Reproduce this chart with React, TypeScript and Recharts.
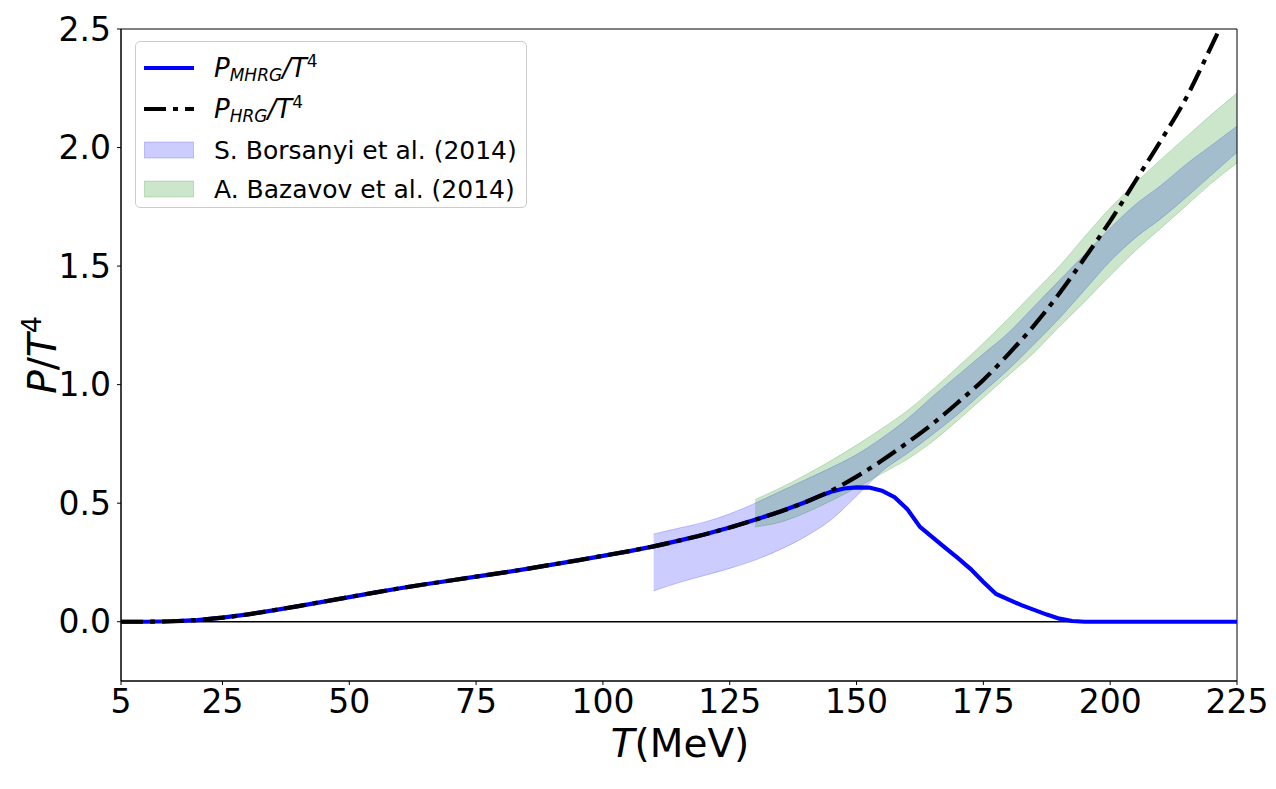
import React from 'react';
import {
  ComposedChart,
  Line,
  Area,
  XAxis,
  YAxis,
  Legend,
  ReferenceLine,
  ReferenceArea,
  Label,
} from 'recharts';

const FONT = '"DejaVu Sans", sans-serif';

// temperature grid (MeV) for the ideal HRG curve
const hrgT = [
  5, 10, 15, 20, 25, 30, 35, 40, 45, 50, 55, 60, 65, 70, 75, 80, 85, 90, 95, 100,
  105, 110, 115, 120, 125, 130, 135, 140, 145, 150, 155, 160, 165, 170, 175, 180,
  185, 190, 195, 200, 205, 210, 215, 220, 225,
];
const hrgP = [
  0, 0, 0.002, 0.007, 0.017, 0.031, 0.048, 0.066, 0.085, 0.104, 0.123, 0.141, 0.158,
  0.174, 0.19, 0.206, 0.223, 0.241, 0.259, 0.278, 0.297, 0.318, 0.342, 0.368, 0.397,
  0.43, 0.465, 0.505, 0.553, 0.612, 0.68, 0.755, 0.835, 0.925, 1.02, 1.13, 1.25,
  1.385, 1.535, 1.69, 1.86, 2.03, 2.21, 2.43, 2.66,
];

// modified HRG
const mhrgT = [
  5, 10, 15, 20, 25, 30, 35, 40, 45, 50, 55, 60, 65, 70, 75, 80, 85, 90, 95, 100,
  105, 110, 115, 120, 125, 130, 135, 140, 142.5, 145, 147.5, 150, 152.5, 155, 157.5,
  160, 162.5, 165, 167.5, 170, 172.5, 175, 177.5, 180, 182.5, 185, 187.5, 190, 192.5,
  195, 200, 210, 225,
];
const mhrgP = [
  0, 0, 0.002, 0.007, 0.017, 0.031, 0.048, 0.066, 0.085, 0.104, 0.123, 0.141, 0.158,
  0.174, 0.19, 0.206, 0.223, 0.241, 0.259, 0.278, 0.297, 0.318, 0.342, 0.368, 0.397,
  0.43, 0.465, 0.505, 0.528, 0.548, 0.562, 0.567, 0.566, 0.553, 0.525, 0.475, 0.4,
  0.356, 0.312, 0.268, 0.222, 0.168, 0.117, 0.093, 0.07, 0.05, 0.03, 0.013, 0.003,
  0, 0, 0, 0,
];

// lattice bands
const borsT = [110, 115, 120, 125, 130, 135, 140, 145, 150, 155, 160, 165, 170, 175, 180, 185, 190, 195, 200, 205, 210, 215, 220, 225];
const borsLow = [0.13, 0.165, 0.195, 0.225, 0.26, 0.305, 0.36, 0.43, 0.53, 0.635, 0.71, 0.79, 0.875, 0.97, 1.065, 1.17, 1.28, 1.4, 1.52, 1.62, 1.7, 1.79, 1.885, 1.98];
const borsHigh = [0.37, 0.395, 0.42, 0.455, 0.5, 0.55, 0.6, 0.65, 0.705, 0.775, 0.855, 0.95, 1.04, 1.13, 1.22, 1.33, 1.44, 1.55, 1.66, 1.76, 1.84, 1.93, 2.01, 2.09];

const bazT = [130, 135, 140, 145, 150, 155, 160, 165, 170, 175, 180, 185, 190, 195, 200, 205, 210, 215, 220, 225];
const bazLow = [0.4, 0.42, 0.46, 0.51, 0.565, 0.625, 0.685, 0.76, 0.85, 0.945, 1.04, 1.135, 1.245, 1.35, 1.46, 1.565, 1.66, 1.755, 1.85, 1.935];
const bazHigh = [0.515, 0.565, 0.62, 0.68, 0.745, 0.815, 0.89, 0.98, 1.075, 1.175, 1.28, 1.39, 1.5, 1.625, 1.745, 1.85, 1.95, 2.045, 2.14, 2.23];

const xTicks = [5, 25, 50, 75, 100, 125, 150, 175, 200, 225];
const yTicks = [0, 0.5, 1, 1.5, 2, 2.5];

const hrgData = hrgT.map((t, i) => ({ T: t, p: hrgP[i] }));
const mhrgData = mhrgT.map((t, i) => ({ T: t, p: mhrgP[i] }));
const borsData = borsT.map((t, i) => ({ T: t, band: [borsLow[i], borsHigh[i]] }));
const bazData = bazT.map((t, i) => ({ T: t, band: [bazLow[i], bazHigh[i]] }));

const tickStyle = { fill: '#000', fontSize: 33, fontFamily: FONT };

function LegendRow({ top, swatch, children }: { top: number; swatch: React.ReactNode; children: React.ReactNode }) {
  return (
    <div style={{ position: 'absolute', left: 8, top, height: 40, display: 'flex', alignItems: 'center' }}>
      <div style={{ width: 50, height: 40, display: 'flex', alignItems: 'center' }}>{swatch}</div>
      <div style={{ marginLeft: 20, whiteSpace: 'nowrap' }}>{children}</div>
    </div>
  );
}

function LegendBox() {
  const main = { fontSize: 26, fontStyle: 'italic' as const };
  const sub = { fontSize: 17, fontStyle: 'italic' as const, verticalAlign: -4 };
  const sup = { fontSize: 17, verticalAlign: 10 };
  return (
    <div
      style={{
        width: 392,
        height: 167,
        boxSizing: 'border-box',
        border: '1px solid #cccccc',
        borderRadius: 5,
        background: 'rgba(255,255,255,0.8)',
        fontFamily: FONT,
        fontSize: 25,
        color: '#000',
        position: 'relative',
        lineHeight: 1,
      }}
    >
      <LegendRow
        top={6}
        swatch={
          <svg width={50} height={10}>
            <line x1={0} y1={5} x2={50} y2={5} stroke="#0000ff" strokeWidth={4.2} />
          </svg>
        }
      >
        <span style={main}>P</span>
        <span style={sub}>MHRG</span>
        <span style={main}>/T</span>
        <span style={sup}>4</span>
      </LegendRow>
      <LegendRow
        top={47}
        swatch={
          <svg width={50} height={10}>
            <line x1={0} y1={5} x2={50} y2={5} stroke="#000" strokeWidth={4.2} strokeDasharray="22 7 5 7" />
          </svg>
        }
      >
        <span style={main}>P</span>
        <span style={sub}>HRG</span>
        <span style={main}>/T</span>
        <span style={sup}>4</span>
      </LegendRow>
      <LegendRow
        top={88}
        swatch={
          <svg width={50} height={18}>
            <rect x={0.5} y={1} width={49} height={16} fill="#0000ff" fillOpacity={0.2} stroke="#0000ff" strokeOpacity={0.2} />
          </svg>
        }
      >
        S. Borsanyi et al. (2014)
      </LegendRow>
      <LegendRow
        top={127}
        swatch={
          <svg width={50} height={18}>
            <rect x={0.5} y={1} width={49} height={16} fill="#008000" fillOpacity={0.2} stroke="#008000" strokeOpacity={0.2} />
          </svg>
        }
      >
        A. Bazavov et al. (2014)
      </LegendRow>
    </div>
  );
}

function YTitle() {
  return (
    <text x={56} y={355} transform="rotate(-90, 56, 355)" textAnchor="middle" fontFamily={FONT} fontSize={39} fill="#000">
      <tspan fontStyle="italic">P</tspan>
      <tspan>/</tspan>
      <tspan fontStyle="italic">T</tspan>
      <tspan dy={-15} fontSize={27}>4</tspan>
    </text>
  );
}

function XTitle() {
  return (
    <text x={680} y={757} textAnchor="middle" fontFamily={FONT} fontSize={39} fill="#000">
      <tspan fontStyle="italic">T</tspan>
      <tspan>(MeV)</tspan>
    </text>
  );
}

export default function App() {
  return (
    <div style={{ position: 'absolute', left: 0, top: 0, width: 1276, height: 789, background: '#fff' }}>
      <ComposedChart width={1276} height={789} margin={{ top: 29, right: 39, bottom: 0, left: 0 }}>
        <XAxis
          dataKey="T"
          type="number"
          domain={[5, 225]}
          ticks={xTicks}
          allowDataOverflow
          height={108}
          tickSize={4}
          tickMargin={5}
          tick={tickStyle}
          axisLine={{ stroke: '#000', strokeWidth: 1 }}
          tickLine={{ stroke: '#000', strokeWidth: 1 }}
        >
          <Label content={() => <XTitle />} />
        </XAxis>
        <YAxis
          type="number"
          domain={[-0.25, 2.5]}
          ticks={yTicks}
          allowDataOverflow
          width={121}
          tickSize={4}
          tickMargin={6}
          tick={tickStyle}
          tickFormatter={(v: number) => v.toFixed(1)}
          axisLine={{ stroke: '#000', strokeWidth: 1 }}
          tickLine={{ stroke: '#000', strokeWidth: 1 }}
        >
          <Label content={() => <YTitle />} />
        </YAxis>
        <ReferenceLine y={0} stroke="#000" strokeWidth={1.5} />
        <Area
          data={borsData}
          dataKey="band"
          type="monotone"
          fill="#0000ff"
          fillOpacity={0.2}
          stroke="#0000ff"
          strokeOpacity={0.2}
          strokeWidth={1}
          isAnimationActive={false}
        />
        <Area
          data={bazData}
          dataKey="band"
          type="monotone"
          fill="#008000"
          fillOpacity={0.2}
          stroke="#008000"
          strokeOpacity={0.2}
          strokeWidth={1}
          isAnimationActive={false}
        />
        <Line
          data={mhrgData}
          dataKey="p"
          type="linear"
          stroke="#0000ff"
          strokeWidth={4.2}
          dot={false}
          isAnimationActive={false}
        />
        <Line
          data={hrgData}
          dataKey="p"
          type="monotone"
          stroke="#000"
          strokeWidth={4.2}
          strokeDasharray="22 7 5 7"
          dot={false}
          isAnimationActive={false}
        />
        <ReferenceArea x1={5} x2={225} y1={-0.25} y2={2.5} fill="none" stroke="#000" strokeWidth={1} />
        <Legend
          layout="vertical"
          align="center"
          verticalAlign="middle"
          content={() => <LegendBox />}
          wrapperStyle={{ left: 135, top: 41, width: 392, height: 167 }}
        />
      </ComposedChart>
    </div>
  );
}
